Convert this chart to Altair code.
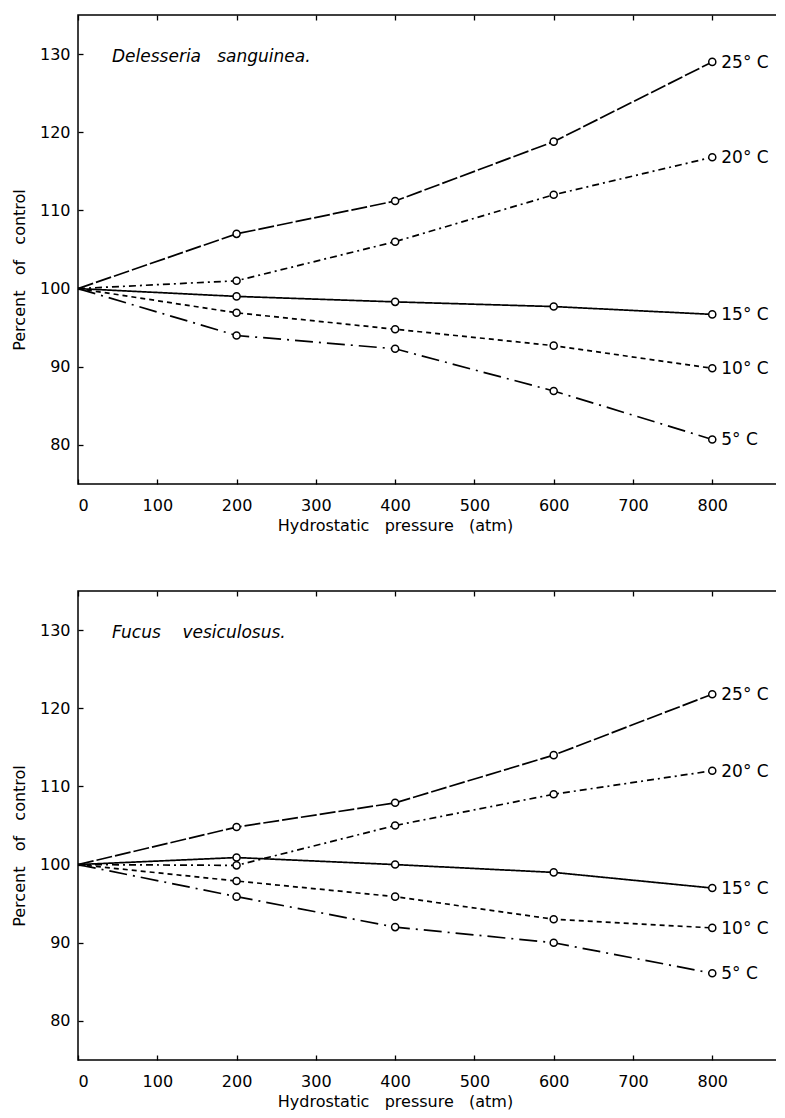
import altair as alt
import pandas as pd

pressure = [0, 200, 400, 600, 800]
temps = ["25° C", "20° C", "15° C", "10° C", "5° C"]

delesseria_25 = [100, 107.0, 111.2, 118.8, 129.0]
delesseria_20 = [100, 101.0, 106.0, 112.0, 116.8]
delesseria_15 = [100, 99.0, 98.3, 97.7, 96.7]
delesseria_10 = [100, 96.9, 94.8, 92.7, 89.8]
delesseria_5 = [100, 94.0, 92.3, 86.9, 80.7]

fucus_25 = [100, 104.8, 107.9, 114.0, 121.8]
fucus_20 = [100, 99.9, 105.0, 109.0, 112.0]
fucus_15 = [100, 100.9, 100.0, 99.0, 97.0]
fucus_10 = [100, 97.9, 95.9, 93.0, 91.9]
fucus_5 = [100, 95.9, 92.0, 90.0, 86.1]

x_ticks = [0, 100, 200, 300, 400, 500, 600, 700, 800]
y_ticks = [80, 90, 100, 110, 120, 130]

dashes = [[16, 3], [7, 4, 2, 4], [1, 0], [5, 4], [18, 6, 2, 6]]

FONT = "DejaVu Sans"
NB = "\u00a0"
W, H = 708, 469


def long_df(series):
    rows = []
    for t, vals in zip(temps, series):
        for p, v in zip(pressure, vals):
            rows.append({"pressure": p, "value": v, "temp": t})
    return pd.DataFrame(rows)


def panel(series, species):
    df = long_df(series)
    base = alt.Chart(df)
    xs = alt.Scale(domain=[0, 893], nice=False, zero=False)
    ys = alt.Scale(domain=[75, 135], nice=False, zero=False)
    x = alt.X("pressure:Q", scale=xs, axis=alt.Axis(
        values=x_ticks, title=f"Hydrostatic{NB}{NB} pressure{NB}{NB} (atm)", domain=False, grid=False,
        offset=-5, tickSize=5, tickWidth=1.3, tickColor="black", labelPadding=13,
        titlePadding=4, labelFontSize=16, titleFontSize=16, labelColor="black",
        titleColor="black", labelFont=FONT, titleFont=FONT, titleFontWeight="normal",
        titleX=317))
    y = alt.Y("value:Q", scale=ys, axis=alt.Axis(
        values=y_ticks, title=f"Percent{NB}{NB} of{NB}{NB} control", domain=False, grid=False,
        offset=-5, tickSize=5, tickWidth=1.3, tickColor="black", labelPadding=8,
        titlePadding=12, labelFontSize=16, titleFontSize=16, labelColor="black",
        titleColor="black", labelFont=FONT, titleFont=FONT, titleFontWeight="normal",
        titleY=H / 2 + 20))
    lines = base.mark_line(color="black", strokeWidth=1.7).encode(
        x=x, y=y,
        strokeDash=alt.StrokeDash("temp:N", scale=alt.Scale(domain=temps, range=dashes), legend=None),
        detail="temp:N",
    )
    xt = alt.X("pressure:Q", scale=xs, axis=alt.Axis(
        orient="top", values=x_ticks, labels=False, title=None, domain=False, grid=False,
        offset=-5, tickSize=5, tickWidth=1.3, tickColor="black", minExtent=0, maxExtent=0))
    yr = alt.Y("value:Q", scale=ys, axis=alt.Axis(
        orient="right", values=y_ticks, labels=False, title=None, domain=False, grid=False,
        offset=-5, tickSize=5, tickWidth=1.3, tickColor="black", minExtent=0, maxExtent=0))
    points = base.transform_filter("datum.pressure > 0").mark_point(
        shape="circle", filled=True, fill="white", stroke="black", strokeWidth=1.5,
        size=50, opacity=1).encode(x=xt, y=yr)
    labels = base.transform_filter("datum.pressure == 800").mark_text(
        align="left", baseline="middle", dx=9, dy=1, fontSize=17, font=FONT, color="black"
    ).encode(x=alt.X("pressure:Q", scale=xs, axis=None),
             y=alt.Y("value:Q", scale=ys, axis=None), text="temp:N")
    name = alt.Chart(pd.DataFrame({"t": [species]})).mark_text(
        align="left", baseline="middle", fontSize=17, font=FONT, fontStyle="italic", color="black"
    ).encode(text="t:N", x=alt.value(34), y=alt.value(42))
    return alt.layer(lines, points, labels, name).resolve_axis(x="independent", y="independent").properties(
        width=W, height=H)


top = panel([delesseria_25, delesseria_20, delesseria_15, delesseria_10, delesseria_5],
            f"Delesseria{NB}{NB} sanguinea.")
bottom = panel([fucus_25, fucus_20, fucus_15, fucus_10, fucus_5],
               f"Fucus{NB}{NB}{NB} vesiculosus.")

chart = alt.vconcat(top, bottom, spacing=55).properties(
    padding={"left": 2, "top": 5, "right": -12, "bottom": 0},
    background="white",
).configure_view(stroke="black", strokeWidth=1.5)

chart.save("out.html", embed_options={"renderer": "svg", "actions": False})
